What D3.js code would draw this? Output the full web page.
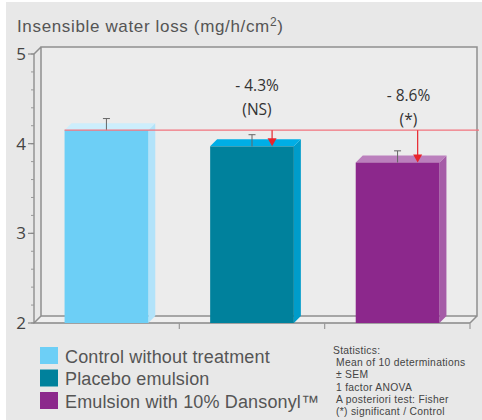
<!DOCTYPE html>
<html><head><meta charset="utf-8">
<script src="https://cdn.jsdelivr.net/npm/d3@7"></script>
<style>
html,body{margin:0;padding:0;background:#fff;}
svg{display:block;}
</style></head>
<body>
<script>
// ---- data ----
const categories = ["Control without treatment", "Placebo emulsion", "Emulsion with 10% Dansonyl\u2122"];
const values = [4.15, 3.97, 3.79];
const sem = [0.13, 0.13, 0.13];
const changeLabels = ["", "- 4.3%", "- 8.6%"];
const signifLabels = ["", "(NS)", "(*)"];
const yTicks = [2, 3, 4, 5];
const statsLines = ["Statistics:", "Mean of 10 determinations", "\u00b1 SEM", "1 factor ANOVA", "A posteriori test: Fisher", "(*) significant / Control"];

// ---- styles ----
const frontCol = ["#6dcff6", "#00819c", "#8c288c"];
const sideCol  = ["#b2e3fa", "#009cca", "#a55ca7"];
const topCol   = ["#cdeefc", "#00aee6", "#bb80bd"];

const W = 482, H = 420;
const svg = d3.select("body").append("svg").attr("width", W).attr("height", H);
svg.append("rect").attr("x", 6).attr("y", 2).attr("width", W - 6).attr("height", H - 2).attr("fill", "#e8e8e8");

const x0 = 34, x1 = 470, dx = 7, dy = -7;
const y = d3.scaleLinear().domain([2, 5]).range([323, 54]);
const x = d3.scaleBand().domain(categories).range([x0, x1]).paddingInner(0.425).paddingOuter(0.21);
const xb = d3.scaleLinear().domain([0, 3]).range([x0, x1]);
const bw = x.bandwidth();

// back wall (slightly lighter)
svg.append("rect").attr("x", x0 + dx).attr("y", y(5) + dy).attr("width", x1 - x0).attr("height", y(2) - y(5))
  .attr("fill", "#ececec");
// floor
svg.append("path").attr("d", `M${x0},${y(2)} L${x0+dx},${y(2)+dy} L${x1+dx},${y(2)+dy} L${x1},${y(2)} Z`).attr("fill", "#efefef");

const gridCol = "#8f8f8f";
const box = svg.append("g").attr("stroke", gridCol).attr("stroke-width", 1.5).attr("fill", "none");
box.append("path").attr("d",
  `M${x0+dx},${y(2)+dy} L${x0+dx},${y(5)+dy} L${x1+dx},${y(5)+dy} L${x1+dx},${y(2)+dy} L${x0+dx},${y(2)+dy}` +
  `M${x0},${y(5)} L${x0+dx},${y(5)+dy}` +
  `M${x0},${y(2)} L${x0+dx},${y(2)+dy}` +
  `M${x1},${y(2)} L${x1+dx},${y(2)+dy}`);
box.append("path").attr("d", `M${x0},${y(5)} L${x0},${y(2)} L${x1},${y(2)}`).attr("stroke", "#888").attr("stroke-width", 1.3);

// y axis ticks
const minor = d3.range(2, 5.001, 0.2);
svg.append("g").selectAll("line").data(minor).join("line")
  .attr("x1", x0 - 3).attr("x2", x0).attr("y1", d => y(d)).attr("y2", d => y(d))
  .attr("stroke", "#999").attr("stroke-width", 1);
svg.append("g").selectAll("line").data(yTicks).join("line")
  .attr("x1", x0 - 6).attr("x2", x0).attr("y1", d => y(d)).attr("y2", d => y(d))
  .attr("stroke", "#888").attr("stroke-width", 1.2);
svg.append("g").selectAll("text").data(yTicks).join("text")
  .attr("x", x0 - 8).attr("y", d => y(d)).attr("dy", "0.36em").attr("text-anchor", "end")
  .attr("font-family", "Open Sans, sans-serif").attr("font-size", 17).attr("fill", "#444").text(d => d);

// x axis ticks at boundaries
svg.append("g").selectAll("line").data(d3.range(1, 4)).join("line")
  .attr("x1", d => xb(d)).attr("x2", d => xb(d)).attr("y1", y(2)).attr("y2", y(2) + 6)
  .attr("stroke", "#999").attr("stroke-width", 1.2);

// bars
const bars = svg.append("g");
categories.forEach((c, i) => {
  const l = x(c), r = l + bw, t = y(values[i]), b = y(2);
  bars.append("path").attr("d", `M${r},${t} L${r+dx},${t+dy} L${r+dx},${b+dy} L${r},${b} Z`).attr("fill", sideCol[i]);
  bars.append("path").attr("d", `M${l},${t} L${l+dx},${t+dy} L${r+dx},${t+dy} L${r},${t} Z`).attr("fill", topCol[i]);
  bars.append("rect").attr("x", l).attr("y", t).attr("width", bw).attr("height", b - t).attr("fill", frontCol[i]);
});

// error bars
const eb = svg.append("g").attr("stroke", "#666").attr("stroke-width", 1);
categories.forEach((c, i) => {
  const cx = x(c) + bw / 2;
  eb.append("line").attr("x1", cx).attr("x2", cx).attr("y1", y(values[i])).attr("y2", y(values[i] + sem[i]));
  eb.append("line").attr("x1", cx - 3.5).attr("x2", cx + 3.5).attr("y1", y(values[i] + sem[i])).attr("y2", y(values[i] + sem[i]));
});

// reference line at control level
const yRef = y(values[0]);
svg.append("line").attr("x1", x(categories[0])).attr("x2", x1 + dx + 2).attr("y1", yRef).attr("y2", yRef)
  .attr("stroke", "#f2737e").attr("stroke-width", 1.3);

// arrows and annotations
const annY = [0, 91, 101];
categories.forEach((c, i) => {
  if (i === 0) return;
  const ax = x(c) + bw * 0.74, tip = y(values[i]);
  svg.append("line").attr("x1", ax).attr("x2", ax).attr("y1", yRef).attr("y2", tip - 6)
    .attr("stroke", "#e8242c").attr("stroke-width", 1.2);
  svg.append("path").attr("d", `M${ax-4.5},${tip-8} L${ax+4.5},${tip-8} L${ax},${tip} Z`).attr("fill", "#e8242c");
  const tx = x(c) + bw * (i === 1 ? 0.56 : 0.63);
  svg.append("text").attr("x", tx).attr("y", annY[i]).attr("text-anchor", "middle")
    .attr("font-family", "Open Sans, sans-serif").attr("font-size", 15.5).attr("fill", "#333").text(changeLabels[i]);
  svg.append("text").attr("x", tx).attr("y", annY[i] + 24).attr("text-anchor", "middle")
    .attr("font-family", "Open Sans, sans-serif").attr("font-size", 15.5).attr("fill", "#333").text(signifLabels[i]);
});

// title
const title = svg.append("text").attr("x", 17).attr("y", 32)
  .attr("font-family", "Liberation Sans, Arial, sans-serif").attr("font-size", 17).attr("fill", "#555")
  .attr("letter-spacing", 0.65);
title.append("tspan").text("Insensible water loss (mg/h/cm");
title.append("tspan").attr("font-size", 12).attr("dy", -6).text("2");
title.append("tspan").attr("dy", 6).text(")");

// legend
const lg = svg.append("g");
categories.forEach((c, i) => {
  const ly = 347 + i * 22.5;
  lg.append("rect").attr("x", 40).attr("y", ly).attr("width", 18).attr("height", 17).attr("fill", frontCol[i]);
  lg.append("text").attr("x", 65).attr("y", ly + 15.5)
    .attr("font-family", "Liberation Sans, Arial, sans-serif").attr("font-size", 18).attr("fill", "#555")
    .attr("letter-spacing", 0.15).text(c);
});

// statistics note
const st = svg.append("g").attr("font-family", "Liberation Sans, Arial, sans-serif").attr("font-size", 10.3)
  .attr("fill", "#444").attr("letter-spacing", 0.3);
statsLines.forEach((s, i) => {
  st.append("text").attr("x", i === 0 ? 333 : 336).attr("y", 354 + i * 12.2).text(s);
});
</script>
</body></html>
